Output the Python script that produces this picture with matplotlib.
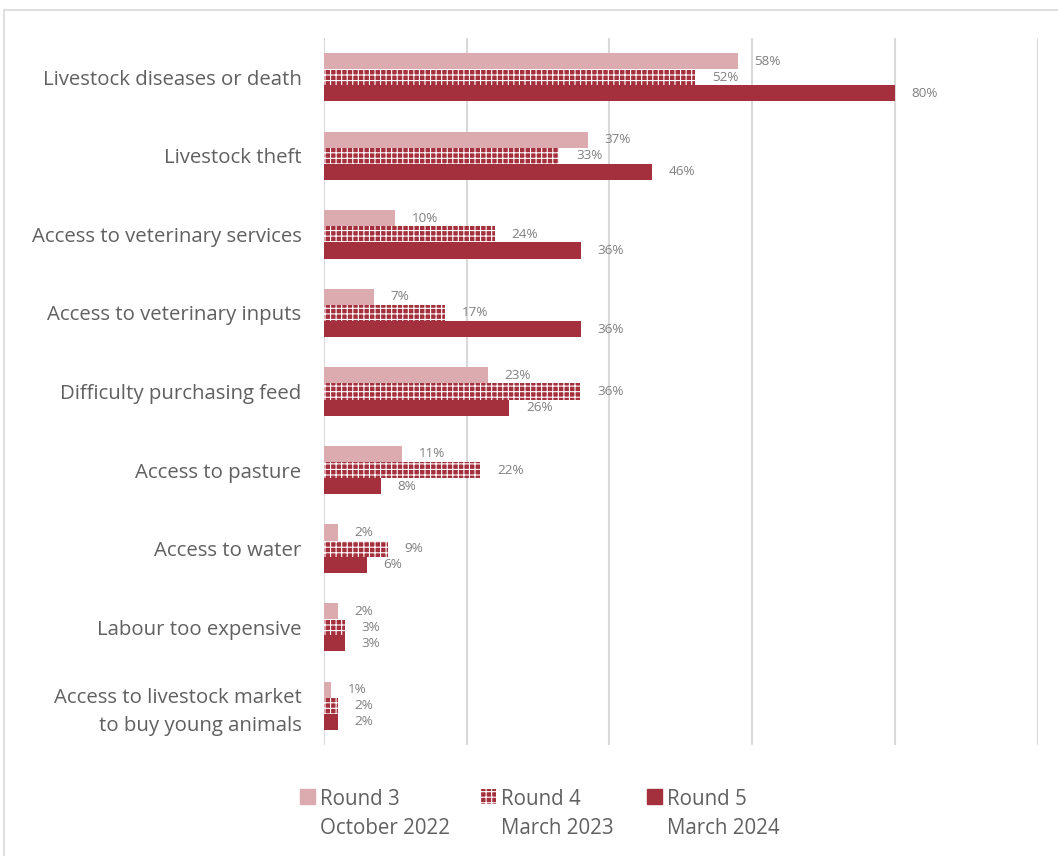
import numpy as np
import matplotlib.pyplot as plt
from matplotlib.patches import Rectangle

plt.rcParams['font.family'] = ['Open Sans', 'DejaVu Sans']
plt.rcParams['hatch.linewidth'] = 0.8

categories = ['Livestock diseases or death', 'Livestock theft',
              'Access to veterinary services', 'Access to veterinary inputs',
              'Difficulty purchasing feed', 'Access to pasture',
              'Access to water', 'Labour too expensive',
              'Access to livestock market\nto buy young animals']
round3 = [58, 37, 10, 7, 23, 11, 2, 2, 1]
round4 = [52, 33, 24, 17, 36, 22, 9, 3, 2]
round5 = [80, 46, 36, 36, 26, 8, 6, 3, 2]
series_names = ['Round 3\nOctober 2022', 'Round 4\nMarch 2023', 'Round 5\nMarch 2024']

c_light = '#dcabb0'
c_dark = '#a5303d'
grey = '#606060'

fig = plt.figure(figsize=(10.58, 8.56), dpi=100)
ax = fig.add_axes([0.306, 0.1297, 0.675, 0.8259])

y = np.arange(len(categories))
h = 0.205
styles = [dict(color=c_light),
          dict(facecolor=c_dark, edgecolor='white', hatch='+++', linewidth=0),
          dict(color=c_dark)]
for k, vals in enumerate([round3, round4, round5]):
    bars = ax.barh(y + (k - 1) * h, vals, height=h, zorder=2, **styles[k])
    for b, v in zip(bars, vals):
        ax.annotate(f'{v}%', (b.get_width(), b.get_y() + b.get_height() / 2),
                    xytext=(12, 0), textcoords='offset points',
                    va='center', ha='left', fontsize=9.7, color='#808080')

ax.set_xlim(0, 100)
ax.set_ylim(len(categories) - 0.5, -0.5)
ax.set_xticks(np.arange(0, 101, 20))
ax.xaxis.grid(True, color='#d9d9d9', linewidth=1.5, zorder=0)
ax.tick_params(axis='x', length=0, labelbottom=False)
ax.set_yticks(y)
ax.set_yticklabels(categories, fontsize=14.7, color=grey, linespacing=1.5)
ax.tick_params(axis='y', length=0, pad=16)
for lab in ax.get_yticklabels():
    lab.set_horizontalalignment('right')
for s in ['top', 'right', 'bottom', 'left']:
    ax.spines[s].set_visible(False)
ax.set_axisbelow(True)

# legend drawn by hand so the swatch sits on the first line
leg_x = [0.284, 0.455, 0.612]
for k, name in enumerate(series_names):
    x0 = leg_x[k]
    fig.patches.append(Rectangle((x0, 0.0605), 0.0135, 0.0175, transform=fig.transFigure,
                                 figure=fig, **styles[k]))
    fig.text(x0 + 0.0185, 0.0785, name, fontsize=14.8, color=grey, va='top',
             ha='left', linespacing=1.5)

fig.patches.append(Rectangle((0.004, -0.01), 1.2, 0.998, transform=fig.transFigure,
                             figure=fig, fill=False, edgecolor='#d9d9d9', linewidth=1.2))

fig.savefig('out.png', dpi=100)
